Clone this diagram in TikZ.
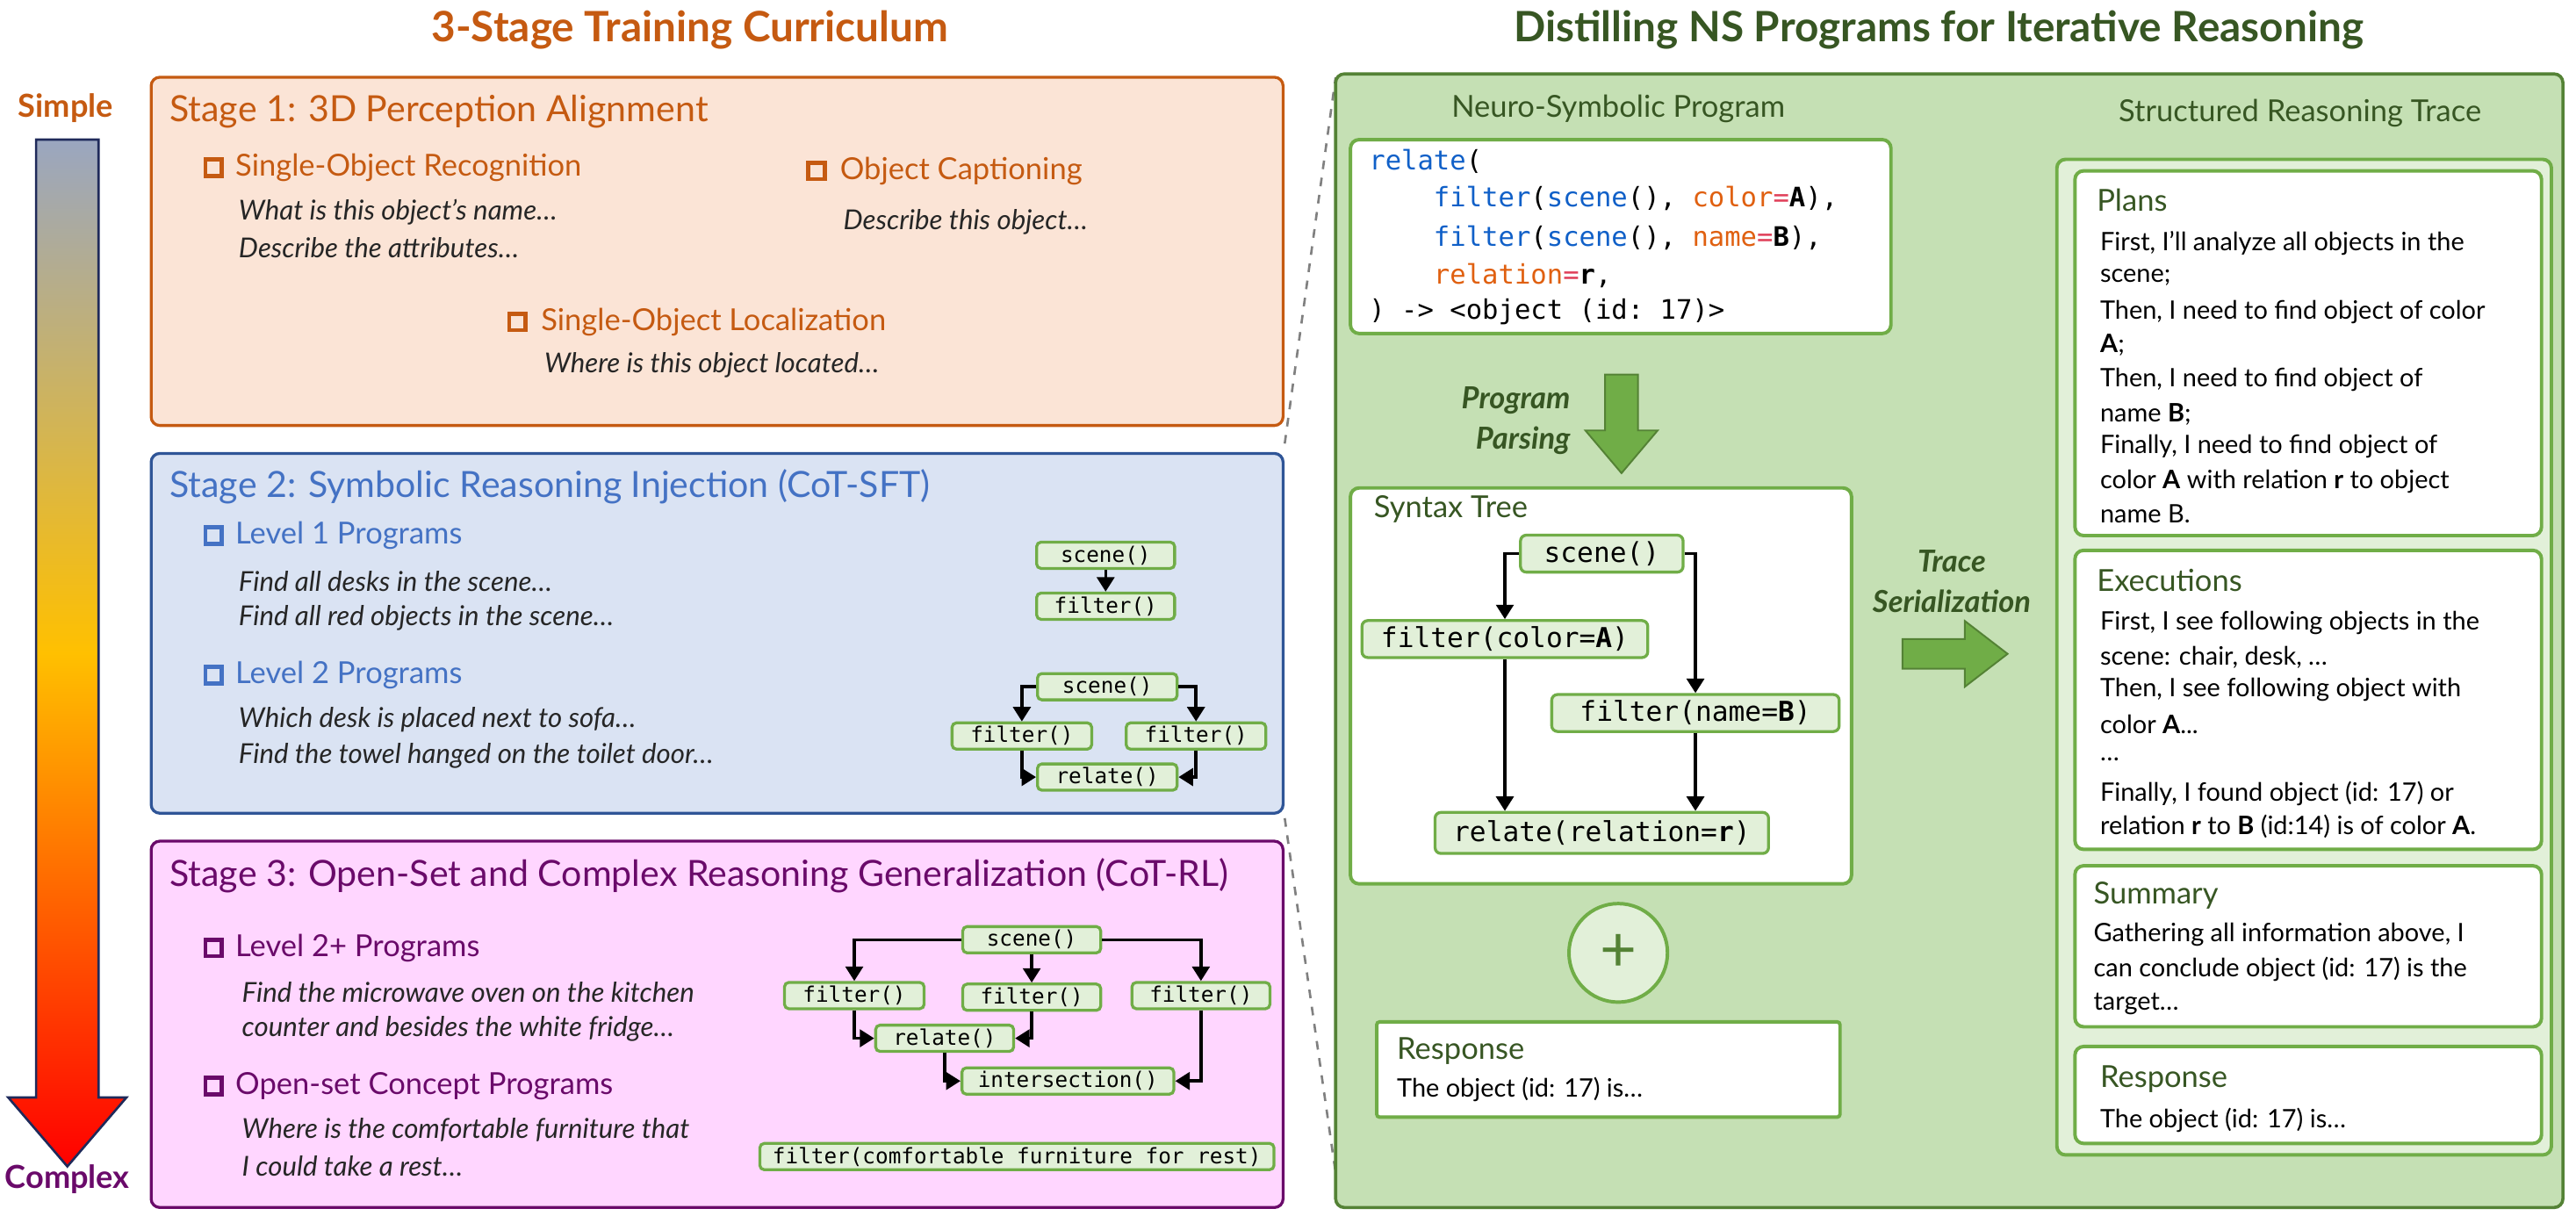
\documentclass[tikz,border=0pt]{standalone}
\usepackage{fontspec}
\setmainfont{Lato}
\setmonofont{DejaVu Sans Mono}
\usetikzlibrary{arrows.meta}
\definecolor{cOr}{HTML}{C55A11}
\definecolor{cOrF}{HTML}{FBE4D6}
\definecolor{cBl}{HTML}{4472C4}
\definecolor{cBlB}{HTML}{2F5597}
\definecolor{cBlF}{HTML}{DAE3F3}
\definecolor{cPu}{HTML}{6A0A6A}
\definecolor{cPuF}{HTML}{FFD6FF}
\definecolor{cGr}{HTML}{70AD47}
\definecolor{cGrD}{HTML}{548235}
\definecolor{cGrT}{HTML}{375623}
\definecolor{cGrF}{HTML}{C5E0B4}
\definecolor{cGrL}{HTML}{E2F0D9}
\definecolor{cTx}{HTML}{262626}
\definecolor{cCb}{HTML}{1060C8}
\definecolor{cCo}{HTML}{E06010}
\definecolor{cEq}{HTML}{E0405A}
\definecolor{gTop}{HTML}{9AA6C0}
\definecolor{gMid}{HTML}{FFC000}
\definecolor{gBot}{HTML}{FF0000}
\definecolor{gLine}{HTML}{1F2A5A}
\begin{document}
\begin{tikzpicture}[x=0.02cm,y=-0.02cm,
  lt/.style={anchor=west,inner sep=0pt},
  stitle/.style={lt,font=\fontsize{12.5}{14}\selectfont},
  item/.style={lt,font=\fontsize{10.5}{12}\selectfont},
  ital/.style={lt,font=\fontsize{9.5}{11}\selectfont\itshape,text=cTx},
  chk/.style={draw=#1,line width=1.4pt,minimum size=0.2cm,inner sep=0pt},
  tn/.style={draw=cGr,fill=cGrL,line width=1pt,rounded corners=1.5pt,inner sep=0pt,minimum height=0.32cm,font=\ttfamily\fontsize{7.4}{8}\selectfont},
  sn/.style={draw=cGr,fill=cGrL,line width=1pt,rounded corners=2pt,inner sep=0pt,minimum height=0.45cm,font=\ttfamily\fontsize{9.5}{11}\selectfont},
  ar/.style={-{Triangle[length=5pt,width=6pt]},line width=1.1pt},
  box/.style={rounded corners=3pt,line width=1pt},
  tr/.style={lt,font=\fontsize{8.8}{10}\selectfont,text=black},
  trh/.style={lt,font=\fontsize{10.5}{12}\selectfont,text=cGrT},
  code/.style={lt,font=\ttfamily\fontsize{9.3}{11}\selectfont}
]
\useasboundingbox (0,0) rectangle (1568,740);
% titles
\node[font=\bfseries\fontsize{14.5}{16}\selectfont,text=cOr] (t1) at (420,18) {3-Stage Training Curriculum};
\node[font=\bfseries\fontsize{14.5}{16}\selectfont,text=cGrT] (t2) at (1180,18) {Distilling NS Programs for Iterative Reasoning};
% gradient arrow
\node[font=\bfseries\fontsize{11}{12}\selectfont,text=cOr] (simple) at (40,66) {Simple};
\node[font=\bfseries\fontsize{11}{12}\selectfont,text=cPu] (complex) at (41,718) {Complex};
\path[top color=gTop,bottom color=gBot,middle color=gMid]
 (22,85)--(60,85)--(60,668)--(77,668)--(41,710)--(5,668)--(22,668)--cycle;
\draw[gLine,line width=0.8pt]
 (22,85)--(60,85)--(60,668)--(77,668)--(41,710)--(5,668)--(22,668)--cycle;
% dashed
\draw[gray,dashed,line width=0.8pt] (782,270)--(813,47);
\draw[gray,dashed,line width=0.8pt] (782,498)--(815,728);
% Stage 1
\draw[box,draw=cOr,fill=cOrF] (92,47) rectangle (781,259);
\node[stitle,text=cOr] (s1) at (103,68) {Stage 1: 3D Perception Alignment};
\node[chk=cOr] (c11) at (130,102) {};
\node[item,text=cOr] (i11) at (143,102) {Single-Object Recognition};
\node[ital] (q11) at (145,129) {What is this object’s name…};
\node[ital] (q12) at (145,151) {Describe the attributes…};
\node[chk=cOr] (c12) at (497,104) {};
\node[item,text=cOr] (i12) at (511,104) {Object Captioning};
\node[ital] (q13) at (513,135) {Describe this object…};
\node[chk=cOr] (c13) at (315,196) {};
\node[item,text=cOr] (i13) at (329,196) {Single-Object Localization};
\node[ital] (q14) at (331,222) {Where is this object located…};
% Stage 2
\draw[box,draw=cBlB,fill=cBlF] (92,276) rectangle (781,495);
\node[stitle,text=cBl] (s2) at (103,296) {Stage 2: Symbolic Reasoning Injection (CoT-SFT)};
\node[chk=cBl] (c21) at (130,326) {};
\node[item,text=cBl] (i21) at (143,326) {Level 1 Programs};
\node[ital] (q21) at (145,354) {Find all desks in the scene…};
\node[ital] (q22) at (145,376) {Find all red objects in the scene…};
\node[chk=cBl] (c22) at (130,411) {};
\node[item,text=cBl] (i22) at (143,411) {Level 2 Programs};
\node[ital] (q23) at (145,438) {Which desk is placed next to sofa…};
\node[ital] (q24) at (145,460) {Find the towel hanged on the toilet door…};
\node[tn,minimum width=1.68cm] (a1) at (673,338) {scene()};
\node[tn,minimum width=1.68cm] (a2) at (673,369) {filter()};
\draw[ar] (a1)--(a2);
\node[tn,minimum width=1.7cm] (b1) at (674,418) {scene()};
\node[tn,minimum width=1.7cm] (b2) at (622,448) {filter()};
\node[tn,minimum width=1.7cm] (b3) at (728,448) {filter()};
\node[tn,minimum width=1.7cm] (b4) at (674,473) {relate()};
\draw[ar] (b1.west) -| (b2.north);
\draw[ar] (b1.east) -| (b3.north);
\draw[ar] (b2.south) |- (b4.west);
\draw[ar] (b3.south) |- (b4.east);
% Stage 3
\draw[box,draw=cPu,fill=cPuF] (92,512) rectangle (781,735);
\node[stitle,text=cPu] (s3) at (103,533) {Stage 3: Open-Set and Complex Reasoning Generalization (CoT-RL)};
\node[chk=cPu] (c31) at (130,577) {};
\node[item,text=cPu] (i31) at (143,577) {Level 2+ Programs};
\node[ital] (q31) at (147,604) {Find the microwave oven on the kitchen};
\node[ital] (q32) at (147,626) {counter and besides the white fridge…};
\node[chk=cPu] (c32) at (130,661) {};
\node[item,text=cPu] (i32) at (143,661) {Open-set Concept Programs};
\node[ital] (q33) at (147,688) {Where is the comfortable furniture that};
\node[ital] (q34) at (147,710) {I could take a rest…};
\node[tn,minimum width=1.68cm] (d1) at (628,572) {scene()};
\node[tn,minimum width=1.7cm] (d2) at (520,606) {filter()};
\node[tn,minimum width=1.68cm] (d3) at (628,607) {filter()};
\node[tn,minimum width=1.68cm] (d4) at (731,606) {filter()};
\node[tn,minimum width=1.68cm] (d5) at (575,632) {relate()};
\node[tn,minimum width=2.58cm] (d6) at (650,658) {intersection()};
\node[tn,minimum width=6.26cm] (d7) at (619,704) {filter(comfortable furniture for rest)};
\draw[ar] (d1.west) -| (d2.north);
\draw[ar] (d1.south) -- (d3.north);
\draw[ar] (d1.east) -| (d4.north);
\draw[ar] (d2.south) |- (d5.west);
\draw[ar] (d3.south) |- (d5.east);
\draw[ar] (d5.south) |- (d6.west);
\draw[ar] (d4.south) |- (d6.east);
% Right panel
\draw[box,draw=cGrD,fill=cGrF,line width=1.1pt] (813,45) rectangle (1560,735);
\node[font=\fontsize{10.5}{12}\selectfont,text=cGrT] (h1) at (985,66) {Neuro-Symbolic Program};
\node[font=\fontsize{10.5}{12}\selectfont,text=cGrT] (h2) at (1400,69) {Structured Reasoning Trace};
\draw[box,draw=cGr,fill=white,line width=1.2pt] (822,85) rectangle (1151,203);
\node[code] (k1) at (833,98) {\textcolor{cCb}{relate}(};
\node[code] (k2) at (833,121) {\phantom{xxxx}\textcolor{cCb}{filter}(\textcolor{cCb}{scene}(), \textcolor{cCo}{color}\textcolor{cEq}{=}\textbf{A}),};
\node[code] (k3) at (833,145) {\phantom{xxxx}\textcolor{cCb}{filter}(\textcolor{cCb}{scene}(), \textcolor{cCo}{name}\textcolor{cEq}{=}\textbf{B}),};
\node[code] (k4) at (833,168) {\phantom{xxxx}\textcolor{cCo}{relation}\textcolor{cEq}{=}\textbf{r},};
\node[code] (k5) at (833,190) {) -> <object (id: 17)>};
% program parsing arrow
\node[font=\bfseries\itshape\fontsize{10.5}{12}\selectfont,text=cGrT,align=right,anchor=east] (pp) at (962,256) {Program\\[2pt]Parsing};
\draw[fill=cGr,draw=cGrD,line width=0.6pt] (977,228)--(997,228)--(997,262)--(1009,262)--(987,288)--(965,262)--(977,262)--cycle;
% syntax tree
\draw[box,draw=cGr,fill=white,line width=1.2pt] (822,297) rectangle (1127,538);
\node[lt,font=\fontsize{10.5}{12}\selectfont,text=cGrT] (st) at (836,310) {Syntax Tree};
\node[sn,minimum width=1.98cm] (e1) at (975,337) {scene()};
\node[sn,minimum width=3.48cm] (e2) at (916,389) {filter(color=\textbf{A})};
\node[sn,minimum width=3.5cm] (e3) at (1032,434) {filter(name=\textbf{B})};
\node[sn,minimum width=4.06cm,minimum height=0.5cm] (e4) at (975,507) {relate(relation=\textbf{r})};
\draw[ar] (e1.west) -| (e2.north);
\draw[ar] (e1.east) -| (e3.north);
\draw[ar] (e2.south) -- (e2.south |- e4.north);
\draw[ar] (e3.south) -- (e3.south |- e4.north);
% plus
\node[circle,draw=cGr,fill=cGrL,line width=1.2pt,minimum size=1.2cm,inner sep=0pt,font=\fontsize{22}{22}\selectfont,text=cGrD] (plus) at (985,580) {+};
% response
\draw[box,draw=cGr,fill=white,line width=1.2pt,rounded corners=1pt] (838,622) rectangle (1120,680);
\node[trh] (r1) at (850,640) {Response};
\node[tr] (r2) at (850,663) {The object (id: 17) is…};
% trace serialization
\node[font=\bfseries\itshape\fontsize{10.5}{12}\selectfont,text=cGrT,align=center] (ts) at (1188,354) {Trace\\[2pt]Serialization};
\draw[fill=cGr,draw=cGrD,line width=0.6pt] (1158,389)--(1196,389)--(1196,378)--(1222,398)--(1196,418)--(1196,407)--(1158,407)--cycle;
% trace
\draw[box,draw=cGr,fill=cGrL,line width=1.2pt] (1252,97) rectangle (1553,703);
\draw[box,draw=cGr,fill=white,line width=1.2pt] (1263,104) rectangle (1547,326);
\draw[box,draw=cGr,fill=white,line width=1.2pt] (1263,335) rectangle (1547,517);
\draw[box,draw=cGr,fill=white,line width=1.2pt] (1263,527) rectangle (1547,625);
\draw[box,draw=cGr,fill=white,line width=1.2pt] (1263,637) rectangle (1547,696);
\node[trh] (p0) at (1276,122) {Plans};
\node[tr] (p1) at (1278,148) {First, I’ll analyze all objects in the};
\node[tr] (p2) at (1278,169) {scene;};
\node[tr] (p3) at (1278,190) {Then, I need to find object of color};
\node[tr] (p4) at (1278,210) {\textbf{A};};
\node[tr] (p5) at (1278,231) {Then, I need to find object of};
\node[tr] (p6) at (1278,252) {name \textbf{B};};
\node[tr] (p7) at (1278,272) {Finally, I need to find object of};
\node[tr] (p8) at (1278,293) {color \textbf{A} with relation \textbf{r} to object};
\node[tr] (p9) at (1278,313) {name B.};
\node[trh] (x0) at (1276,353) {Executions};
\node[tr] (x1) at (1278,379) {First, I see following objects in the};
\node[tr] (x2) at (1278,400) {scene: chair, desk, …};
\node[tr] (x3) at (1278,420) {Then, I see following object with};
\node[tr] (x4) at (1278,441) {color \textbf{A}...};
\node[tr] (x5) at (1278,462) {…};
\node[tr] (x6) at (1278,483) {Finally, I found object (id: 17) or};
\node[tr] (x7) at (1278,503) {relation \textbf{r} to \textbf{B} (id:14) is of color \textbf{A}.};
\node[trh] (m0) at (1274,545) {Summary};
\node[tr] (m1) at (1274,569) {Gathering all information above, I};
\node[tr] (m2) at (1274,590) {can conclude object (id: 17) is the};
\node[tr] (m3) at (1274,611) {target…};
\node[trh] (o0) at (1278,657) {Response};
\node[tr] (o1) at (1278,682) {The object (id: 17) is…};
\end{tikzpicture}
\end{document}
